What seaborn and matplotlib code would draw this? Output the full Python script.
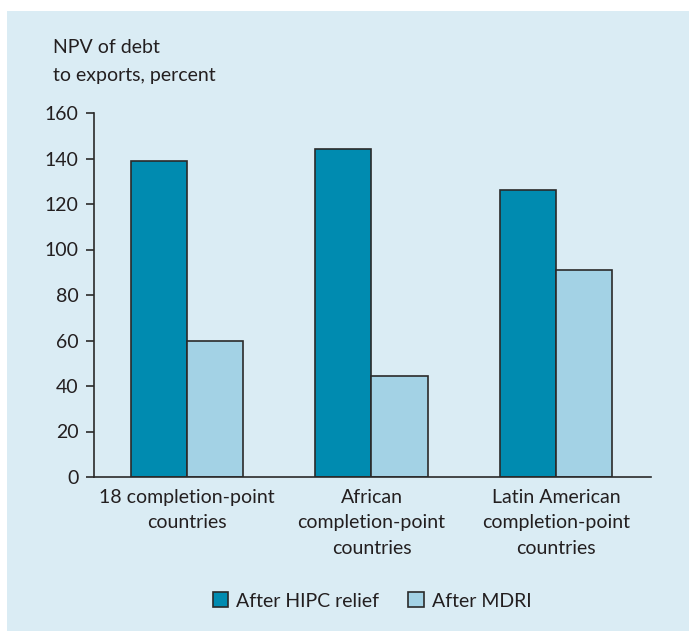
import pandas as pd
import matplotlib.pyplot as plt
import seaborn as sns
from matplotlib.patches import Rectangle, Patch

# Data
groups = ['18 completion-point\ncountries',
          'African\ncompletion-point\ncountries',
          'Latin American\ncompletion-point\ncountries']
series = ['After HIPC relief', 'After MDRI']
hipc = [139, 144, 126]
mdri = [60, 44.5, 91]
yticks = [0, 20, 40, 60, 80, 100, 120, 140, 160]

df = pd.DataFrame({
    'group': groups * 2,
    'series': [series[0]] * 3 + [series[1]] * 3,
    'value': hipc + mdri,
})

bg = '#DAECF4'
palette = {series[0]: '#008BB0', series[1]: '#A3D2E5'}
edge = '#2a2a2a'
text_col = '#231F20'
fs = 14

sns.set_style('white')
plt.rcParams['font.family'] = ['Lato', 'DejaVu Sans']

fig = plt.figure(figsize=(6.89, 6.31), dpi=100)
fig.patch.set_facecolor('white')
fig.patches.append(Rectangle((7 / 689, 0), 1, 1 - 11 / 631, transform=fig.transFigure,
                             facecolor=bg, edgecolor='none', zorder=-10))

ax = fig.add_axes([94 / 689, 1 - 477 / 631, (651 - 94) / 689, (477 - 113) / 631])
ax.set_facecolor('none')

sns.barplot(data=df, x='group', y='value', hue='series', palette=palette, saturation=1,
            width=0.61, gap=0, edgecolor=edge, linewidth=1.2, ax=ax, legend=False)

ax.set_xlim(-0.504, 2.515)
ax.set_ylim(0, 160)
ax.set_yticks(yticks)
ax.set_yticklabels([str(t) for t in yticks], fontsize=fs, color=text_col)
ax.set_xticks(range(len(groups)))
ax.set_xticklabels(groups, fontsize=fs, color=text_col, linespacing=1.6)
ax.set_xlabel('')
ax.set_ylabel('')

for s in ['top', 'right']:
    ax.spines[s].set_visible(False)
for s in ['left', 'bottom']:
    ax.spines[s].set_color(edge)
    ax.spines[s].set_linewidth(1.2)

ax.tick_params(axis='y', left=True, length=6, width=1.2, color=edge, pad=5)
ax.tick_params(axis='x', bottom=False, pad=5)

fig.text(53 / 689, 1 - 61.5 / 631, 'NPV of debt\nto exports, percent', fontsize=fs,
         color=text_col, ha='left', va='center', linespacing=1.8)

handles = [Patch(facecolor=palette[s], edgecolor=edge, linewidth=1.2, label=s) for s in series]
fig.legend(handles=handles, loc='center', bbox_to_anchor=(372 / 689, 1 - 601 / 631),
           ncol=2, frameon=False, fontsize=fs, handlelength=0.8, handleheight=0.8,
           handletextpad=0.4, columnspacing=1.5, labelcolor=text_col)

fig.savefig('out.png', dpi=100, facecolor='white')
